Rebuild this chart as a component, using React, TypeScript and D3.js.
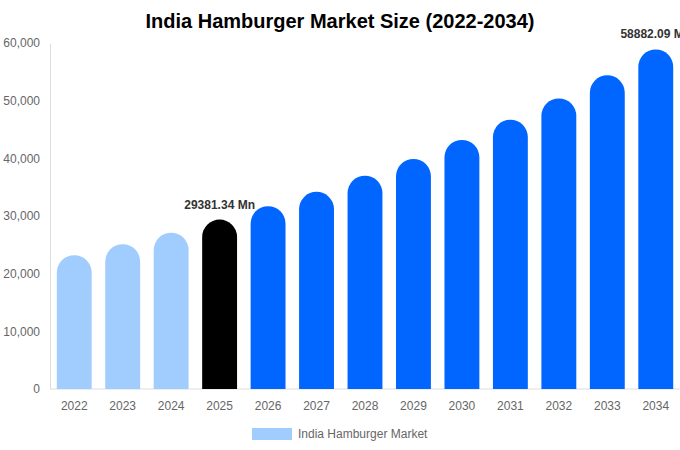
import { useEffect, useRef } from 'react';
import { select, scaleBand, scaleLinear, axisLeft, axisBottom, format } from 'd3';

const years = ['2022', '2023', '2024', '2025', '2026', '2027', '2028', '2029', '2030', '2031', '2032', '2033', '2034'];
const marketSize = [23200, 25100, 27100, 29381.34, 31700, 34200, 37000, 39900, 43200, 46700, 50400, 54400, 58882.09];
const yTicks = [0, 10000, 20000, 30000, 40000, 50000, 60000];
const labelledYears = ['2025', '2034'];
const baseYear = '2025';
const seriesName = 'India Hamburger Market';

const width = 680;
const height = 450;
const margin = { top: 43, right: 0, bottom: 61, left: 50 };

const colorHistoric = '#a0cdfd';
const colorBase = '#000000';
const colorForecast = '#0066ff';

const App = () => {
  const svgRef = useRef<SVGSVGElement>(null);

  useEffect(() => {
    if (!svgRef.current) return;
    const svg = select(svgRef.current);
    svg.selectAll('*').remove();

    const x = scaleBand()
      .domain(years)
      .range([margin.left, width - margin.right])
      .paddingInner(0.28)
      .paddingOuter(0.14);
    const y = scaleLinear()
      .domain([0, 60000])
      .range([height - margin.bottom, margin.top]);

    svg
      .append('text')
      .attr('x', width / 2)
      .attr('y', 28)
      .attr('text-anchor', 'middle')
      .style('font-size', '20px')
      .style('font-weight', 'bold')
      .attr('fill', '#000')
      .text('India Hamburger Market Size (2022-2034)');

    // y axis
    const yAxis = svg
      .append('g')
      .attr('transform', `translate(${margin.left},0)`)
      .call(axisLeft(y).tickValues(yTicks).tickFormat(format(',')).tickSize(0).tickPadding(10));
    yAxis.select('.domain').attr('stroke', '#ddd');
    yAxis.selectAll('text').attr('fill', '#666').style('font-size', '12px').style('font-family', 'Liberation Sans, Arial, sans-serif');

    // x axis
    const xAxis = svg
      .append('g')
      .attr('transform', `translate(0,${height - margin.bottom})`)
      .call(axisBottom(x).tickSize(0).tickPadding(12));
    xAxis.select('.domain').attr('stroke', '#ddd').attr('d', `M${margin.left},0H${width}`);
    xAxis.selectAll('text').attr('fill', '#666').style('font-size', '12px').style('font-family', 'Liberation Sans, Arial, sans-serif');

    const bw = x.bandwidth();
    const r = bw / 2;
    const rows = years.map((yr, i) => ({ yr, v: marketSize[i] }));

    svg
      .append('g')
      .selectAll('path')
      .data(rows)
      .join('path')
      .attr('fill', (d) => (d.yr === baseYear ? colorBase : d.yr < baseYear ? colorHistoric : colorForecast))
      .attr('d', (d) => {
        const x0 = x(d.yr)!;
        const top = y(d.v);
        const bottom = y(0);
        return `M${x0},${bottom}V${top + r}A${r},${r} 0 0 1 ${x0 + bw},${top + r}V${bottom}Z`;
      });

    svg
      .append('g')
      .selectAll('text')
      .data(rows.filter((d) => labelledYears.includes(d.yr)))
      .join('text')
      .attr('x', (d) => x(d.yr)! + bw / 2)
      .attr('y', (d) => y(d.v) - 11)
      .attr('text-anchor', 'middle')
      .attr('fill', '#333')
      .style('font-size', '12px')
      .style('font-weight', 'bold')
      .text((d) => `${d.v.toFixed(2)} Mn`);

    // legend
    const legend = svg.append('g').attr('transform', 'translate(252,428)');
    legend.append('rect').attr('width', 40).attr('height', 12).attr('fill', colorHistoric);
    legend
      .append('text')
      .attr('x', 46)
      .attr('y', 10)
      .attr('fill', '#666')
      .style('font-size', '12px')
      .text(seriesName);
  }, []);

  return (
    <svg
      ref={svgRef}
      width={width}
      height={height}
      style={{ position: 'absolute', left: 0, top: 0, fontFamily: 'Liberation Sans, Arial, sans-serif', background: '#fff' }}
    />
  );
};

export default App;
